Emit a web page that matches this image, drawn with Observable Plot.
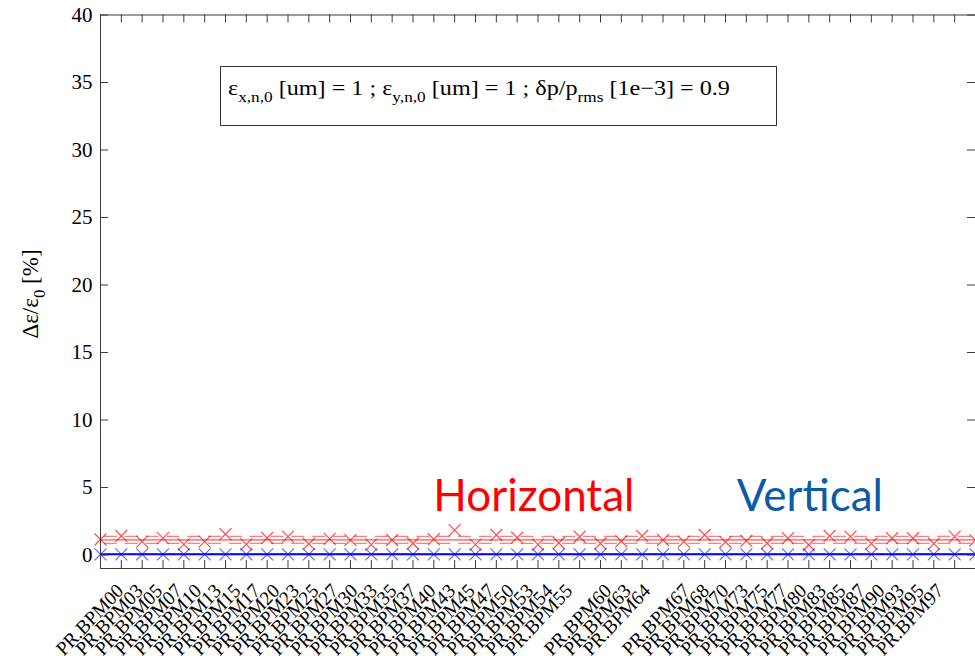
<!DOCTYPE html>
<html>
<head>
<meta charset="utf-8">
<script src="https://cdn.jsdelivr.net/npm/d3@7"></script>
<script src="https://cdn.jsdelivr.net/npm/@observablehq/plot@0.6"></script>
<style>
  body { margin: 0; background: #fff; overflow: hidden; }
  #chart { position: relative; width: 975px; height: 662px; }
  #chart svg { display: block; }
  .note {
    position: absolute; left: 220px; top: 66px; width: 557px; height: 60px;
    box-sizing: border-box; border: 1px solid #333; background: #fff;
    font-family: "Liberation Serif", "Times New Roman", serif; font-size: 21px; color: #000;
    white-space: nowrap;
  }
  .note span.t {
    position: absolute; left: 7px; top: 10px; line-height: 22px;
    transform: scaleX(1.15); transform-origin: 0 0;
  }
  .note sub { font-size: 15px; vertical-align: -7px; line-height: 0; }
</style>
</head>
<body>
<div id="chart"></div>
<script>
// Monitor names along the ring (blank slots carry no label)
const bpmLabels = [
  "PR.BPM00","PR.BPM03","PR.BPM05","PR.BPM07","PR.BPM10","PR.BPM13","PR.BPM15","PR.BPM17",
  "PR.BPM20","PR.BPM23","PR.BPM25","PR.BPM27","PR.BPM30","PR.BPM33","PR.BPM35","PR.BPM37",
  "PR.BPM40","PR.BPM43","PR.BPM45","PR.BPM47","PR.BPM50","PR.BPM53","PR.BPM54","PR.BPM55",
  "","PR.BPM60","PR.BPM63","PR.BPM64","",
  "PR.BPM67","PR.BPM68","PR.BPM70","PR.BPM73","PR.BPM75","PR.BPM77","PR.BPM80","PR.BPM83",
  "PR.BPM85","PR.BPM87","PR.BPM90","PR.BPM93","PR.BPM95","PR.BPM97"
];

// Relative emittance growth Δε/ε0 [%] per monitor
const horizontal = [
  1.15,1.41,0.99,1.25,0.79,0.99,1.54,0.79,1.26,1.36,
  0.82,1.20,1.10,0.77,1.11,0.85,1.17,1.84,0.77,1.48,
  1.28,0.77,0.89,1.35,0.85,1.02,1.41,1.11,0.99,1.48,
  0.96,1.04,0.87,1.24,0.74,1.41,1.36,0.84,1.24,1.24,
  0.84,1.36,1.09
];
const vertical = [
  0.05,0.05,0.05,0.05,0.05,0.05,0.05,0.05,0.05,0.05,
  0.05,0.05,0.05,0.05,0.05,0.05,0.05,0.05,0.05,0.05,
  0.05,0.05,0.05,0.05,0.05,0.05,0.05,0.05,0.05,0.05,
  0.05,0.05,0.05,0.05,0.05,0.05,0.05,0.05,0.05,0.05,
  0.05,0.05,0.05
];

const yTicks = [0, 5, 10, 15, 20, 25, 30, 35, 40];
const seriesNames = ["Horizontal", "Vertical"];

// Layout
const W = 975, H = 662;
const mL = 100, mT = 14.5, mB = 94, mR = 0;
const innerW = W - mL - mR, innerH = H - mT - mB;
const serif = "'Liberation Serif', 'Times New Roman', serif";

const slots = bpmLabels.map((_, i) => i);
const hPts = horizontal.map((v, i) => ({i, v}));
const vPts = vertical.map((v, i) => ({i, v}));

// Mean and ±1σ bands of each plane
const hMean = d3.mean(horizontal), hSd = d3.deviation(horizontal);
const vMean = d3.mean(vertical), vSd = d3.deviation(vertical) || 0;

const red = "#ff0000", blue = "#0000ff";
const dash = {strokeDasharray: "13,7.833", strokeDashoffset: -3.9};
const axisInk = "#3a3a3a";

const plot = Plot.plot({
  width: W, height: H,
  marginLeft: mL, marginTop: mT, marginBottom: mB, marginRight: mR,
  style: {fontFamily: serif, fontSize: "21px", color: "#000", background: "#fff", overflow: "hidden"},
  x: {domain: [0, slots.length - 1], axis: null},
  y: {domain: [-1, 40], axis: null},
  marks: [
    // horizontal plane: ±σ band, mean, samples
    Plot.ruleY([hMean - hSd, hMean + hSd], {stroke: red, strokeOpacity: 0.5, strokeWidth: 1.3, ...dash}),
    Plot.ruleY([hMean], {stroke: red, strokeOpacity: 0.85, strokeWidth: 1}),
    Plot.dot(hPts, {x: "i", y: "v", symbol: "times", r: 5.5, stroke: red, strokeOpacity: 0.7, strokeWidth: 1.2}),
    // vertical plane
    Plot.ruleY([vMean - vSd, vMean + vSd], {stroke: blue, strokeOpacity: 0.5, strokeWidth: 1.3, ...dash}),
    Plot.ruleY([vMean], {stroke: blue, strokeWidth: 2}),
    Plot.dot(vPts, {x: "i", y: "v", symbol: "times", r: 5.5, stroke: blue, strokeOpacity: 0.6, strokeWidth: 1.2}),

    // box edges (left, bottom, top)
    Plot.ruleX([0], {stroke: axisInk}),
    Plot.ruleY([-1, 40], {stroke: axisInk}),
    // inward ticks on all four sides
    Plot.tickX(slots, {x: d => d, insetTop: innerH - 8, stroke: axisInk}),
    Plot.tickX(slots, {x: d => d, insetBottom: innerH - 8, stroke: axisInk}),
    Plot.tickY(yTicks, {y: d => d, insetRight: innerW - 8, stroke: axisInk}),
    Plot.tickY(yTicks, {y: d => d, insetLeft: innerW - 8, stroke: axisInk}),

    Plot.axisY({ticks: yTicks, tickSize: 0, tickPadding: 8, label: null, fontSize: 21}),
    Plot.axisX({ticks: slots, tickFormat: i => bpmLabels[i], tickRotate: -45, tickSize: 0, tickPadding: 19, label: null, fontSize: 20}),

    // plane annotations
    Plot.text([seriesNames[0]], {text: d => d, x: 20.8, y: 4.3, fill: red, fontFamily: "Lato", fontSize: 44, textAnchor: "middle"}),
    Plot.text([seriesNames[1]], {text: d => d, x: 34.05, y: 4.3, fill: "#0b5ba8", fontFamily: "Lato", fontSize: 44, textAnchor: "middle"})
  ]
});

const chart = document.getElementById("chart");
chart.appendChild(plot);

// The monitor names run slightly tighter than the tick pitch
const xLabels = d3.select(plot).select('g[aria-label="x-axis tick label"]');
const prev = xLabels.attr("transform") || "";
xLabels.attr("transform", `translate(26,0) scale(0.937,1) ${prev}`);

// y-axis title with a subscript
const ylab = d3.select(plot).append("text")
  .attr("transform", "translate(38,294) rotate(-90)")
  .attr("text-anchor", "middle")
  .attr("font-family", serif)
  .attr("font-size", 23)
  .attr("fill", "#000");
ylab.append("tspan").text("Δε/ε");
ylab.append("tspan").attr("font-size", 17).attr("dy", 7).text("0");
ylab.append("tspan").attr("dy", -7).text(" [%]");

// beam parameter box
const note = document.createElement("div");
note.className = "note";
note.innerHTML = '<span class="t">ε<sub>x,n,0</sub> [um] = 1 ; ε<sub>y,n,0</sub> [um] = 1 ; δp/p<sub>rms</sub> [1e−3] = 0.9</span>';
chart.appendChild(note);
</script>
</body>
</html>
